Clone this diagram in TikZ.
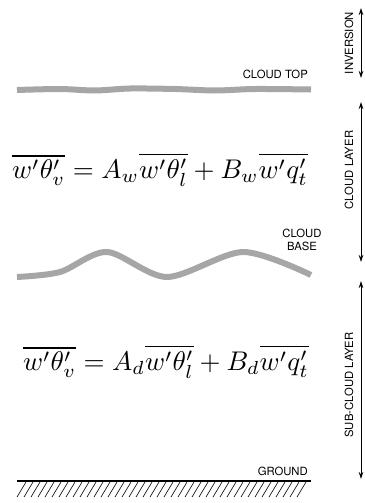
\documentclass[tikz,border=0pt]{standalone}
\usepackage{fontspec}
\setsansfont{TeX Gyre Heros}
\usetikzlibrary{arrows.meta}
\begin{document}
\begin{tikzpicture}[x=1pt,y=-1pt,
  lbl/.style={font=\sffamily\fontsize{11.3}{13}\selectfont,inner sep=1pt},
  band/.style={line width=6pt,draw=black!35},
  span/.style={{Stealth[length=7pt,width=4.5pt]}-{Stealth[length=7pt,width=4.5pt]},line width=0.9pt},
  eqn/.style={scale=2.7,inner sep=0pt}]
\useasboundingbox (0,0) rectangle (364,503);
\draw[band] plot[smooth] coordinates {(17,90) (60,89) (95,90.5) (130,88.5) (175,89) (215,90.5) (255,89) (311,89.5)};
\node[lbl,anchor=south east] (top) at (309,80) {CLOUD TOP};
\node[eqn] (eqw) at (160,170) {$\overline{w'\theta'_v} = A_w\overline{w'\theta'_l}+B_w\overline{w'q'_t}$};
\draw[band] plot[smooth] coordinates {(17,277) (60,272) (107,252) (167,277) (243,252) (311,275)};
\node[lbl,align=center] (base) at (302,240) {CLOUD\\BASE};
\node[eqn] (eqd) at (166,362) {$\overline{w'\theta'_v} = A_d\overline{w'\theta'_l}+B_d\overline{w'q'_t}$};
\node[lbl,anchor=south east] (gnd) at (309,477) {GROUND};
\draw[line width=1.3pt] (17,481) -- (311,481);
\foreach \x in {26,33,...,312} \draw[line width=0.6pt] (\x,482) -- (\x-9,497);
\coordinate (inv1) at (361,8);
\coordinate (inv2) at (361,78);
\coordinate (cl1) at (361,102);
\coordinate (cl2) at (361,262);
\coordinate (sc1) at (361,281);
\coordinate (sc2) at (361,479);
\draw[span] (inv1) -- (inv2);
\draw[span] (cl1) -- (cl2);
\draw[span] (sc1) -- (sc2);
\node[lbl,rotate=90] (inv) at (349,43) {INVERSION};
\node[lbl,rotate=90] (cloud) at (349,170) {CLOUD LAYER};
\node[lbl,rotate=90] (sub) at (349,385) {SUB-CLOUD LAYER};
\end{tikzpicture}
\end{document}
